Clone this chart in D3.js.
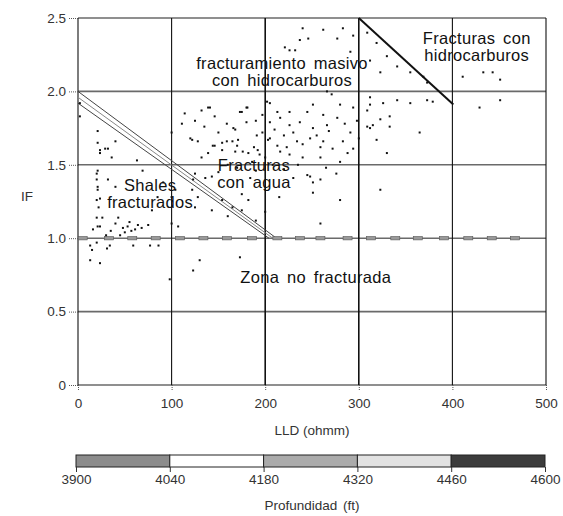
<!DOCTYPE html>
<html>
<head>
<meta charset="utf-8">
<script src="https://cdn.jsdelivr.net/npm/d3@7"></script>
<style>
  body { margin: 0; background: #fff; }
  text { font-family: "Liberation Sans", Arial, sans-serif; fill: #222; }
</style>
</head>
<body>
<div id="chart"></div>
<script>
// Width and height
var width  = 563;
var height = 516;

// LLD (ohmm) vs IF
var lld = [2,2,21,21,23.5,23.5,29,32,40,36,20,21,20,21,21,20,23.5,22,20,26,21,16,23.5,32,40,63,69,43,40,53,61,68,75,50,45,57,64,55,48,30,35,85,79,91,100,107,
    13,15,13,23.5,20,31,34,59,77,86,130,123,173,98,
    114,132,139,111,100,122,128,146,154,165,171,146,159,168,175,181,132,139,154,168,182,192,197,203,125,136,143,123,122,128,125,143,154,165,175,182,104,100,
    141,173,180,197,213,226,245,251,262,280,294,312,315,166,180,205,216,226,237,251,266,277,291,312,120,144,159,170,191,205,213,223,234,248,259,272,283,294,176,194,216,226,240,259,280,230,245,251,184,266,271,202,205,
    240,262,283,237,246,277,294,291,221,226,232,
    309,319,330,341,312,323,355,369,373,411,433,443,451,429,451,312,326,341,355,373,379,309,323,333,309,333,365,319,330,323,248,259,276,251,280,259,
    210,220,230,240,255,262,268,285,298,300,288,200,208,186,170,160,150,190,220,235,265,150,135,125,190,188,175,160,190,200,215];
var ifv = [1.92,1.83,1.73,1.65,1.58,1.60,1.61,1.61,1.66,1.55,1.44,1.46,1.40,1.35,1.33,1.26,1.27,1.21,1.14,1.14,1.08,1.06,1.08,1.40,1.35,1.53,1.46,1.14,1.10,1.08,1.06,1.07,1.09,1.04,1.02,1.05,1.09,1.11,1.07,1.02,1.05,1.28,1.19,1.38,1.10,1.08,
    0.95,0.92,0.85,0.83,0.97,0.93,0.95,0.95,0.95,0.95,0.85,0.78,0.87,0.72,
    1.85,1.87,1.89,1.78,1.72,1.67,1.66,1.63,1.65,1.66,1.67,1.83,1.78,1.74,1.86,1.89,1.55,1.58,1.60,1.59,1.58,1.60,1.72,1.67,1.44,1.41,1.42,1.40,1.33,1.28,1.21,1.19,1.26,1.21,1.19,1.26,1.33,1.28,
    1.89,1.86,1.89,1.84,1.86,1.86,1.86,1.91,1.84,1.91,1.89,1.91,1.77,1.75,1.79,1.79,1.82,1.77,1.79,1.75,1.77,1.82,1.72,1.75,1.68,1.63,1.66,1.63,1.70,1.68,1.63,1.62,1.66,1.68,1.62,1.61,1.66,1.61,1.59,1.57,1.59,1.57,1.55,1.55,1.52,1.41,1.43,1.38,1.41,2.00,1.98,1.93,1.92,
    2.43,2.42,2.43,2.35,2.36,2.36,2.38,2.27,2.30,2.28,2.28,
    2.40,2.33,2.24,2.17,2.21,2.13,2.13,2.10,2.06,2.10,2.13,2.13,2.08,1.89,1.94,1.96,1.92,1.94,1.92,1.94,1.93,1.87,1.81,1.83,1.76,1.76,1.72,1.67,1.58,1.33,1.42,1.40,1.44,1.31,1.26,1.10,
    1.74,1.70,1.72,1.64,1.70,1.66,1.73,1.78,1.80,1.68,1.58,1.55,1.50,1.52,1.48,1.50,1.45,1.46,1.47,1.50,1.48,1.72,1.76,1.80,1.80,1.62,1.30,1.15,1.12,1.18,1.28];

// samples sitting on IF = 1
var lldRow = [5,33,58,83,109,134,159,186,213,237,259,288,313,339,363,391,417,442,467];

// zone boundaries
var shaleLines = [
    [[0,2.00],[212,1.0]],
    [[0,1.96],[208,1.0]],
    [[0,1.92],[204,1.0]]
];
var hcLine = [[300,2.5],[401,1.91]];

// axes
var xTicks = [0,100,200,300,400,500];
var yTicks = [0,0.5,1.0,1.5,2.0,2.5];

// depth colour bar
var depthBreaks = [3900,4040,4180,4320,4460,4600];
var depthShades = ["#8c8c8c","#ffffff","#ababab","#e2e2e2","#3c3c3c"];

// zone labels (centre LLD, first baseline IF)
var zoneLabels = [
    {lines:["fracturamiento masivo","con hidrocarburos"], x:218, y:2.155},
    {lines:["Fracturas con","hidrocarburos"], x:426, y:2.325},
    {lines:["Fracturas","con agua"], x:188, y:1.455},
    {lines:["Shales","fracturados"], x:77, y:1.32},
    {lines:["Zona no fracturada"], x:254, y:0.695}
];

var x = d3.scaleLinear().domain([0,500]).range([78,546]);
var y = d3.scaleLinear().domain([0,2.5]).range([385,18]);

var svg = d3.select("#chart")
        .append("svg")
        .attr("width", width)
        .attr("height", height);

// grid
svg.append("g")
        .selectAll("line")
        .data(yTicks)
        .enter()
        .append("line")
        .attr("x1", x(0))
        .attr("x2", x(500))
        .attr("y1", function(d){ return y(d); })
        .attr("y2", function(d){ return y(d); })
        .style("stroke", "#6a6a6a")
        .style("stroke-width", "1.6px");

svg.append("g")
        .selectAll("line")
        .data(xTicks)
        .enter()
        .append("line")
        .attr("x1", function(d){ return x(d); })
        .attr("x2", function(d){ return x(d); })
        .attr("y1", y(0))
        .attr("y2", y(2.5))
        .style("stroke", "#111")
        .style("stroke-width", function(d){ return (d == 200 || d == 300) ? "1.6px" : "1.1px"; });

// axes
var xAxis = svg.append("g")
        .attr("transform", "translate(0," + y(0) + ")")
        .call(d3.axisBottom(x).tickValues(xTicks).tickFormat(d3.format("d")).tickSize(6).tickPadding(7));
var yAxis = svg.append("g")
        .attr("transform", "translate(" + x(0) + ",0)")
        .call(d3.axisLeft(y).tickValues(yTicks).tickFormat(function(d){ return d == 0 ? "0" : d3.format(".1f")(d); }).tickSize(9).tickPadding(3));
[xAxis, yAxis].forEach(function(a){
    a.select(".domain").remove();
    a.selectAll(".tick line").style("stroke", "#555").style("stroke-dasharray", "1,1");
    a.selectAll("text").style("font-size", "13.5px").style("fill", "#333");
});

// boundaries
svg.append("g")
        .selectAll("line")
        .data(shaleLines)
        .enter()
        .append("line")
        .attr("x1", function(d){ return x(d[0][0]); })
        .attr("y1", function(d){ return y(d[0][1]); })
        .attr("x2", function(d){ return x(d[1][0]); })
        .attr("y2", function(d){ return y(d[1][1]); })
        .style("stroke", function(d,i){ return i == 1 ? "#888" : "#444"; })
        .style("stroke-width", "1px");

svg.append("line")
        .attr("x1", x(hcLine[0][0]))
        .attr("y1", y(hcLine[0][1]))
        .attr("x2", x(hcLine[1][0]))
        .attr("y2", y(hcLine[1][1]))
        .style("stroke", "#111")
        .style("stroke-width", "2px");

// row of samples at IF = 1
svg.append("g")
        .selectAll("rect")
        .data(lldRow)
        .enter()
        .append("rect")
        .attr("x", function(d){ return x(d) - 4.5; })
        .attr("y", y(1.0) - 1.7)
        .attr("width", 9)
        .attr("height", 3.4)
        .style("fill", "#9a9a9a")
        .style("stroke", "#555")
        .style("stroke-width", "0.6px");

// scatter
var pts = lld.map(function(d,i){ return {lld: d, f: ifv[i]}; });
svg.append("g")
        .selectAll("rect")
        .data(pts)
        .enter()
        .append("rect")
        .attr("x", function(d){ return x(d.lld) - 1; })
        .attr("y", function(d){ return y(d.f) - 1; })
        .attr("width", 2)
        .attr("height", 2)
        .style("fill", "#111");

// zone labels, one text per line
zoneLabels.forEach(function(z){
    z.lines.forEach(function(s,i){
        svg.append("text")
                .attr("x", x(z.x))
                .attr("y", y(z.y) + i * 17)
                .attr("text-anchor", "middle")
                .style("font-size", "16.5px")
                .style("letter-spacing", "0.3px")
                .style("word-spacing", "3px")
                .style("fill", "#111")
                .text(s);
    });
});

// axis titles
svg.append("text")
        .attr("x", 312)
        .attr("y", 435)
        .attr("text-anchor", "middle")
        .style("font-size", "13.5px")
        .style("fill", "#333")
        .text("LLD (ohmm)");
svg.append("text")
        .attr("x", 27)
        .attr("y", 201)
        .attr("text-anchor", "middle")
        .style("font-size", "13.5px")
        .style("fill", "#333")
        .text("IF");

// depth colour bar
var d = d3.scaleLinear().domain([3900,4600]).range([76,545]);
var bar = svg.append("g");
bar.selectAll("rect")
        .data(depthShades)
        .enter()
        .append("rect")
        .attr("x", function(c,i){ return d(depthBreaks[i]); })
        .attr("y", 455)
        .attr("width", function(c,i){ return d(depthBreaks[i+1]) - d(depthBreaks[i]); })
        .attr("height", 12)
        .style("fill", function(c){ return c; })
        .style("stroke", "#222")
        .style("stroke-width", "1px");
var barAxis = svg.append("g")
        .attr("transform", "translate(0,467)")
        .call(d3.axisBottom(d).tickValues(depthBreaks).tickFormat(d3.format("d")).tickSize(5).tickPadding(2));
barAxis.select(".domain").remove();
barAxis.selectAll(".tick line").style("stroke", "#333");
barAxis.selectAll("text").style("font-size", "13.5px").style("fill", "#333");

svg.append("text")
        .attr("x", 312)
        .attr("y", 510)
        .attr("text-anchor", "middle")
        .style("font-size", "13.5px")
        .style("word-spacing", "2px")
        .style("fill", "#333")
        .text("Profundidad (ft)");
</script>
</body>
</html>
